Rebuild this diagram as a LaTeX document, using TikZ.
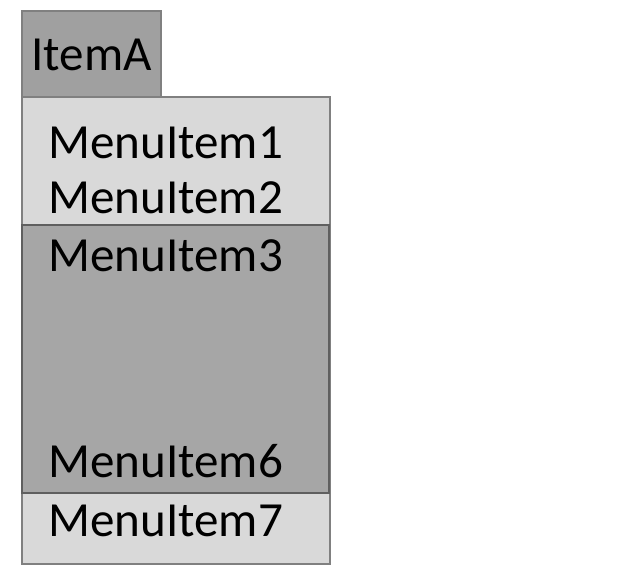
\documentclass[tikz,border=0pt]{standalone}
\usepackage{fontspec}
\setmainfont{Carlito}
\definecolor{lightbox}{HTML}{D9D9D9}
\definecolor{darkbox}{HTML}{A6A6A6}
\definecolor{tabbox}{HTML}{A0A0A0}
\definecolor{lineg}{HTML}{808080}
\definecolor{lined}{HTML}{5F5F5F}
\begin{document}
\begin{tikzpicture}[x=0.75pt,y=0.75pt,
  lbl/.style={anchor=base west,inner sep=0pt,font=\fontsize{36.8}{40}\selectfont},
  lightrect/.style={fill=lightbox,draw=lineg,line width=1.5pt},
  tabrect/.style={fill=tabbox,draw=lineg,line width=1.5pt},
  darkrect/.style={fill=darkbox,draw=lined,line width=1.8pt}]
\useasboundingbox (0,0) rectangle (640,576);
\fill[white] (0,0) rectangle (640,576);
\draw[tabrect] (22,565) rectangle (161,479);
\draw[lightrect] (22,479) rectangle (330,12);
\draw[darkrect] (22,351) rectangle (329,83);
\node[lbl] (itemA) at (31,505) {ItemA};
\node[lbl] (m1) at (48,417) {MenuItem1};
\node[lbl] (m2) at (48,362) {MenuItem2};
\node[lbl] (m3) at (48,304) {MenuItem3};
\node[lbl] (m6) at (48,99) {MenuItem6};
\node[lbl] (m7) at (48,40) {MenuItem7};
\end{tikzpicture}
\end{document}
